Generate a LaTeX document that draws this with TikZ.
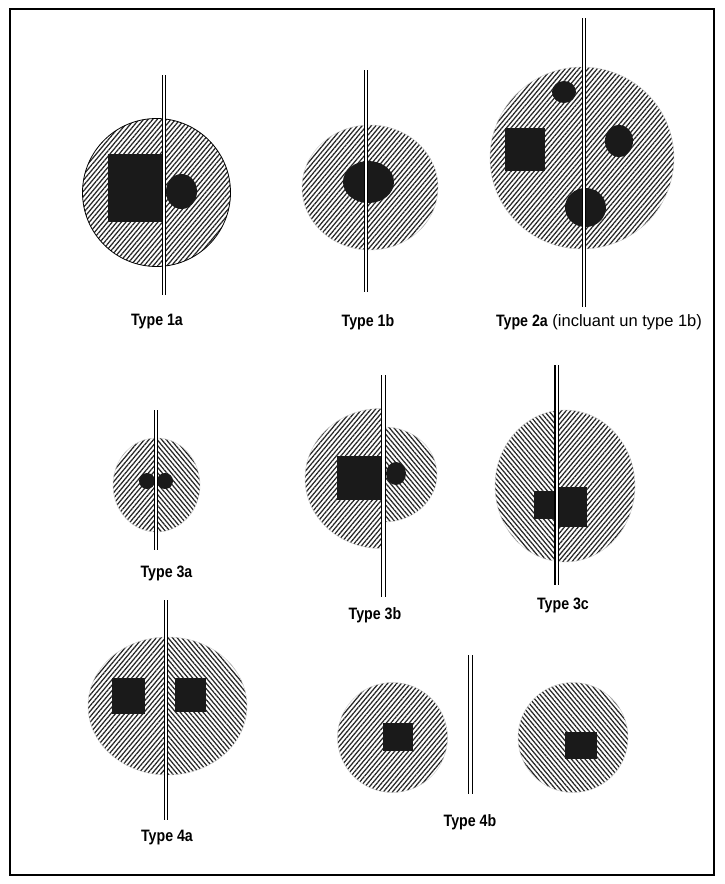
\documentclass[tikz,border=0pt]{standalone}
\usepackage{fontspec}
\setmainfont{Liberation Sans}
\newfontfamily\narrowsans{Liberation Sans}[FakeStretch=0.86]
\usetikzlibrary{patterns.meta}
\definecolor{blk}{HTML}{1A1A1A}
\definecolor{hatchcol}{HTML}{262626}
\newcommand{\typename}[1]{{\narrowsans\bfseries #1}}
\tikzset{
  hatchNE/.style={pattern={Lines[angle=50,distance=3.5pt,line width=1.25pt]},pattern color=hatchcol},
  hatchNW/.style={pattern={Lines[angle=130,distance=3.5pt,line width=1.25pt]},pattern color=hatchcol},
  rim/.style={draw=black!20,line width=0.4pt},
  solid/.style={fill=blk},
  pipe/.style={draw=black,double=white,line width=1.2pt,double distance=2.4pt},
  lab/.style={inner sep=0pt,font=\fontsize{16.5}{19}\selectfont}
}
\begin{document}
\begin{tikzpicture}[x=1pt,y=-1pt]
\useasboundingbox (0,0) rectangle (724,884);
\fill[white] (0,0) rectangle (724,884);
\draw[line width=2pt] (10,9) rectangle (714,875);

% ---------- Type 1a ----------
\fill[hatchNE] (156.5,192.5) circle [radius=74];
\draw[line width=0.8pt] (156.5,192.5) circle [radius=74];
\fill[solid] (108,154) rectangle (164,222);
\fill[solid] (181.5,191.5) ellipse [x radius=15.5,y radius=17.5];
\draw[pipe] (164,75) -- (164,295);
\node[lab] (t1a) at (157,322) {\typename{Type 1a}};

% ---------- Type 1b ----------
\fill[hatchNE] (370,187.5) ellipse [x radius=68,y radius=62.5];
\draw[rim] (370,187.5) ellipse [x radius=68,y radius=62.5];
\fill[solid] (368.5,182) ellipse [x radius=25.5,y radius=21];
\draw[pipe] (366,70) -- (366,292);
\node[lab] (t1b) at (368,322) {\typename{Type 1b}};

% ---------- Type 2a ----------
\fill[hatchNE] (582,158) ellipse [x radius=92,y radius=91];
\draw[rim] (582,158) ellipse [x radius=92,y radius=91];
\fill[solid] (564,92) ellipse [x radius=12,y radius=11];
\fill[solid] (505,128) rectangle (545,171);
\fill[solid] (619,141) ellipse [x radius=14,y radius=16];
\fill[solid] (585.5,207.5) ellipse [x radius=20.5,y radius=19.5];
\draw[pipe] (584,18) -- (584,307);
\node[lab] (t2a) at (599,322) {\typename{Type 2a} (incluant un type 1b)};

% ---------- Type 3a ----------
\begin{scope}
  \clip (100,420) rectangle (156,540);
  \fill[hatchNE] (156.5,485) ellipse [x radius=43.5,y radius=47];
\end{scope}
\begin{scope}
  \clip (156,420) rectangle (210,540);
  \fill[hatchNW] (156.5,485) ellipse [x radius=43.5,y radius=47];
\end{scope}
\draw[rim] (156.5,485) ellipse [x radius=43.5,y radius=47];
\fill[solid] (147,481) circle [radius=8];
\fill[solid] (165,481) circle [radius=8];
\draw[pipe] (156,410) -- (156,550);
\node[lab] (t3a) at (166.5,573) {\typename{Type 3a}};

% ---------- Type 3b ----------
\begin{scope}
  \clip (290,390) rectangle (383,560);
  \fill[hatchNE] (381,478.5) ellipse [x radius=76,y radius=70];
  \draw[rim] (381,478.5) ellipse [x radius=76,y radius=70];
\end{scope}
\begin{scope}
  \clip (383,410) rectangle (450,540);
  \fill[hatchNW] (384,474.5) ellipse [x radius=53,y radius=47.5];
  \draw[rim] (384,474.5) ellipse [x radius=53,y radius=47.5];
\end{scope}
\fill[solid] (337,456) rectangle (383,500);
\fill[solid] (396,473.5) ellipse [x radius=10,y radius=11.5];
\draw[pipe] (383.3,375) -- (383.3,597);
\node[lab] (t3b) at (375,615) {\typename{Type 3b}};

% ---------- Type 3c ----------
\begin{scope}
  \clip (480,400) rectangle (556.7,570);
  \fill[hatchNW] (565,486) ellipse [x radius=70,y radius=76];
\end{scope}
\begin{scope}
  \clip (556.7,400) rectangle (650,570);
  \fill[hatchNE] (565,486) ellipse [x radius=70,y radius=76];
\end{scope}
\draw[rim] (565,486) ellipse [x radius=70,y radius=76];
\fill[solid] (534,491) rectangle (556.7,519);
\fill[solid] (556.7,487) rectangle (587,527);
\draw[pipe] (556.7,365) -- (556.7,585);
\node[lab] (t3c) at (563,605) {\typename{Type 3c}};

% ---------- Type 4a ----------
\begin{scope}
  \clip (80,630) rectangle (166,785);
  \fill[hatchNE] (167.5,706) ellipse [x radius=79.5,y radius=69];
\end{scope}
\begin{scope}
  \clip (166,630) rectangle (255,785);
  \fill[hatchNW] (167.5,706) ellipse [x radius=79.5,y radius=69];
\end{scope}
\draw[rim] (167.5,706) ellipse [x radius=79.5,y radius=69];
\fill[solid] (112,678) rectangle (145,714);
\fill[solid] (175,678) rectangle (206,712);
\draw[pipe] (166,600) -- (166,820);
\node[lab] (t4a) at (167,838) {\typename{Type 4a}};

% ---------- Type 4b ----------
\fill[hatchNE] (392.5,737.5) circle [radius=55];
\draw[rim] (392.5,737.5) circle [radius=55];
\fill[solid] (383,723) rectangle (413,751);
\fill[hatchNW] (573,737.5) circle [radius=55];
\draw[rim] (573,737.5) circle [radius=55];
\fill[solid] (565,732) rectangle (597,759);
\draw[pipe] (470.5,655) -- (470.5,794);
\node[lab] (t4b) at (470,822) {\typename{Type 4b}};
\end{tikzpicture}
\end{document}
